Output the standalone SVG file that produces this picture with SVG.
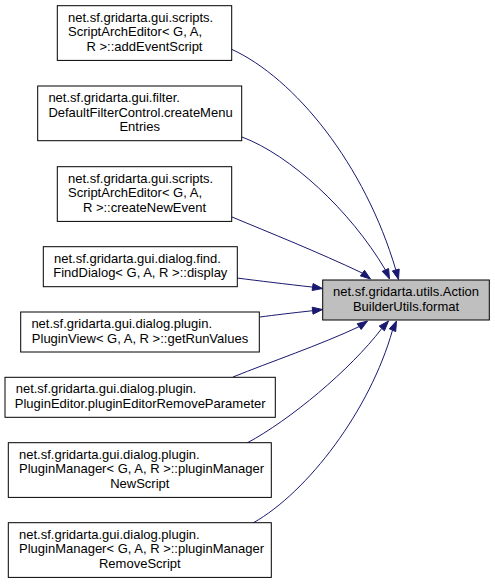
<svg xmlns="http://www.w3.org/2000/svg" width="495" height="584" viewBox="0 0 495 584">
<style>
rect.n{fill:#ffffff;stroke:#000000;stroke-width:1}
rect.t{fill:#bfbfbf;stroke:#000000;stroke-width:1}
text{font-family:"Liberation Sans",Arial,Helvetica,sans-serif;font-size:13px;fill:#000000}
text.l{text-anchor:start}
text.m{text-anchor:middle}
#edges path{fill:none;stroke:#191970;stroke-width:1}
#edges polygon{fill:#191970;stroke:#191970;stroke-width:1}
</style>
<rect width="495" height="584" fill="#ffffff"/>
<g id="edges">
<path d="M231,49 C295,78 365,165 395.8,269.9"/>
<polygon points="392.4,270.9 398.5,279.5 399.2,269.0"/>
<path d="M242,137 C290,155 350,210 385.4,269.9"/>
<polygon points="382.2,271.3 389.5,279 388.6,268.5"/>
<path d="M232,217 C268,232 318,252 362.4,273.1"/>
<polygon points="360.4,275.9 370.5,279 364.5,270.3"/>
<path d="M237,278 C260,281 285,284 312.6,287.1"/>
<polygon points="313.1,283.6 322.5,288.5 312.1,290.5"/>
<path d="M260,317 C275,315 292,313 312.6,310.7"/>
<polygon points="313.0,314.2 322.5,309.5 312.2,307.2"/>
<path d="M233,377 C270,362 320,345 359.2,326.6"/>
<polygon points="361.2,329.5 367.5,321 357.2,323.7"/>
<path d="M247,443 C290,420 350,370 381.8,328.5"/>
<polygon points="384.4,330.8 388.5,321 379.2,326.1"/>
<path d="M253,523 C308,492 370,410 392.5,330.2"/>
<polygon points="395.7,331.6 396.5,321 389.3,328.8"/>
</g>
<g id="node-target">
<rect class="t" x="322.7" y="280" width="166.6" height="40"/>
<text class="m" x="406" y="296">net.sf.gridarta.utils.Action</text>
<text class="m" x="406" y="310.7">BuilderUtils.format</text>
</g>
<g id="node1">
<rect class="n" x="57.3" y="5.7" width="174.4" height="54.7"/>
<text class="l" x="68" y="21.7">net.sf.gridarta.gui.scripts.</text>
<text class="l" x="68" y="36.3">ScriptArchEditor&lt; G, A,</text>
<text class="m" x="144.5" y="51">R &gt;::addEventScript</text>
</g>
<g id="node2">
<rect class="n" x="37.7" y="86" width="204" height="54.7"/>
<text class="l" x="48.4" y="102">net.sf.gridarta.gui.filter.</text>
<text class="l" x="48.4" y="116.7">DefaultFilterControl.createMenu</text>
<text class="m" x="139.7" y="131.3">Entries</text>
</g>
<g id="node3">
<rect class="n" x="57.3" y="166.7" width="174.4" height="54.7"/>
<text class="l" x="68" y="182.7">net.sf.gridarta.gui.scripts.</text>
<text class="l" x="68" y="197.3">ScriptArchEditor&lt; G, A,</text>
<text class="m" x="144.5" y="212">R &gt;::createNewEvent</text>
</g>
<g id="node4">
<rect class="n" x="43.3" y="246.7" width="194" height="40"/>
<text class="l" x="54" y="262.7">net.sf.gridarta.gui.dialog.find.</text>
<text class="m" x="140.3" y="277.3">FindDialog&lt; G, A, R &gt;::display</text>
</g>
<g id="node5">
<rect class="n" x="20.7" y="312" width="238.6" height="40"/>
<text class="l" x="31.4" y="328">net.sf.gridarta.gui.dialog.plugin.</text>
<text class="m" x="140" y="342.7">PluginView&lt; G, A, R &gt;::getRunValues</text>
</g>
<g id="node6">
<rect class="n" x="5" y="377.3" width="270.3" height="40"/>
<text class="l" x="15.7" y="393.3">net.sf.gridarta.gui.dialog.plugin.</text>
<text class="m" x="140.2" y="408">PluginEditor.pluginEditorRemoveParameter</text>
</g>
<g id="node7">
<rect class="n" x="8.3" y="442.7" width="263" height="54.7"/>
<text class="l" x="19" y="458.7">net.sf.gridarta.gui.dialog.plugin.</text>
<text class="l" x="19" y="473.3">PluginManager&lt; G, A, R &gt;::pluginManager</text>
<text class="m" x="139.8" y="488">NewScript</text>
</g>
<g id="node8">
<rect class="n" x="8.3" y="522.7" width="263" height="54.7"/>
<text class="l" x="19" y="538.7">net.sf.gridarta.gui.dialog.plugin.</text>
<text class="l" x="19" y="553.3">PluginManager&lt; G, A, R &gt;::pluginManager</text>
<text class="m" x="139.8" y="568">RemoveScript</text>
</g>
</svg>
